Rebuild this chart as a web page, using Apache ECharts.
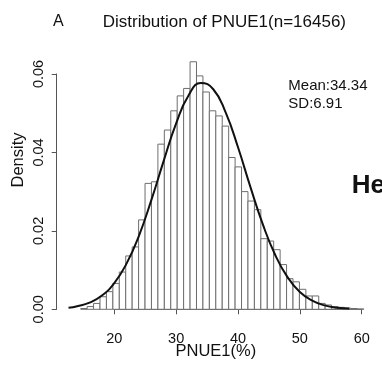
<!DOCTYPE html>
<html>
<head>
<meta charset="utf-8">
<script src="https://cdn.jsdelivr.net/npm/echarts@6/dist/echarts.min.js"></script>
<style>
	html, body { margin: 0; padding: 0; background: #fff; }
	#myhist { width: 382px; height: 365px; }
</style>
</head>
<body>
<div id="myhist"></div>
<script>
// histogram bins (PNUE1 %), left edge of first bin and bin width
var binStart = 14.57;
var binWidth = 1.04;
var densities = [
	0.0002, 0.0007, 0.0015, 0.0032, 0.0045, 0.0066, 0.0095, 0.0136, 0.0159, 0.0228,
	0.0321, 0.0325, 0.0421, 0.0457, 0.0506, 0.0544, 0.0563, 0.0631, 0.0595, 0.0554,
	0.0506, 0.0493, 0.0467, 0.0387, 0.0363, 0.0300, 0.0276, 0.0254, 0.0180, 0.0174,
	0.0152, 0.0114, 0.0078, 0.0070, 0.0051, 0.0034, 0.0034, 0.0015, 0.0011, 0.0007,
	0.0005, 0.0003, 0.0002, 0.0001
];
// fitted normal curve
var curveX = [12.6, 14, 16, 18, 20, 22, 24, 26, 28, 30, 32, 34, 36, 38, 40, 42, 44, 46, 48, 50, 52, 54, 56, 58];
var curveY = [0.0004, 0.0008, 0.0017, 0.0035, 0.0067, 0.0117, 0.0188, 0.0279, 0.0379, 0.0474, 0.0545, 0.0577,
	0.0561, 0.0502, 0.0413, 0.0312, 0.0217, 0.0139, 0.0082, 0.0044, 0.0022, 0.0010, 0.0004, 0.0002];
var xTicks = [20, 30, 40, 50, 60];
var yTicks = [0, 0.02, 0.04, 0.06];

var titleText = 'Distribution of PNUE1(n=16456)';
var statsText = ['Mean:34.34', 'SD:6.91'];

window.onload = function() {
	loadHist();
};

function renderBin(params, api) {
	var x0 = api.value(0);
	var x1 = api.value(1);
	var d = api.value(2);
	var p0 = api.coord([x0, d]);
	var p1 = api.coord([x1, 0]);
	return {
		type: 'rect',
		shape: { x: p0[0], y: p0[1], width: p1[0] - p0[0], height: p1[1] - p0[1] },
		style: { fill: '#fff', stroke: '#6e6e6e', lineWidth: 1 }
	};
}

function loadHist() {
	var mychart = echarts.init(document.getElementById('myhist'));
	var font = "'Liberation Sans', Arial, sans-serif";

	var bins = [];
	for (var i = 0; i < densities.length; i++) {
		var a = binStart + i * binWidth;
		bins.push([a, a + binWidth, densities[i]]);
	}
	var curve = [];
	for (var j = 0; j < curveX.length; j++) {
		curve.push([curveX[j], curveY[j]]);
	}

	var myoption = {
		backgroundColor: '#fff',
		animation: false,
		grid: [
			// plot region
			{ left: 64.8, width: 309.3, top: 50.4, height: 258.9 },
			// detached R style axes
			{ left: 114.3, width: 247.4, top: 74, height: 235.3 }
		],
		xAxis: [{
			gridIndex: 0, type: 'value', min: 12, max: 62, show: false
		}, {
			gridIndex: 1, type: 'value', min: xTicks[0], max: xTicks[xTicks.length - 1], interval: 10,
			offset: 10.5,
			axisLine: { lineStyle: { color: '#555', width: 1 } },
			axisTick: { length: 5, lineStyle: { color: '#555' } },
			axisLabel: { margin: 12, fontSize: 14.5, color: '#111', fontFamily: font },
			splitLine: { show: false }
		}],
		yAxis: [{
			gridIndex: 0, type: 'value', min: 0, max: 0.066, show: false
		}, {
			gridIndex: 1, type: 'value', min: yTicks[0], max: yTicks[yTicks.length - 1], interval: 0.02,
			offset: 57.6,
			axisLine: { show: true, lineStyle: { color: '#555', width: 1 } },
			axisTick: { show: true, length: 5, lineStyle: { color: '#555' } },
			axisLabel: {
				margin: 10, rotate: 90, fontSize: 14.5, color: '#111', fontFamily: font,
				formatter: function(v) { return v.toFixed(2); }
			},
			splitLine: { show: false }
		}],
		series: [{
			type: 'custom',
			xAxisIndex: 0,
			yAxisIndex: 0,
			renderItem: renderBin,
			encode: { x: [0, 1], y: 2 },
			data: bins
		}, {
			type: 'line',
			xAxisIndex: 0,
			yAxisIndex: 0,
			smooth: true,
			symbol: 'none',
			lineStyle: { color: '#111', width: 2 },
			data: curve
		}],
		graphic: [
			{ type: 'text', x: 53, y: 22, style: { text: 'A', font: '16px ' + font, fill: '#111', verticalAlign: 'middle' } },
			{ type: 'text', x: 102.7, y: 22, style: { text: titleText, font: '17px ' + font, fill: '#111', verticalAlign: 'middle' } },
			{ type: 'text', x: 18.5, y: 160, rotation: Math.PI / 2,
				style: { text: 'Density', font: '16.5px ' + font, fill: '#111', align: 'center', verticalAlign: 'middle' } },
			{ type: 'text', x: 215.8, y: 351, style: { text: 'PNUE1(%)', font: '16.5px ' + font, fill: '#111', align: 'center', verticalAlign: 'middle' } },
			{ type: 'text', x: 288.3, y: 86, style: { text: statsText[0], font: '15px ' + font, fill: '#111', verticalAlign: 'middle' } },
			{ type: 'text', x: 288.3, y: 104, style: { text: statsText[1], font: '15px ' + font, fill: '#111', verticalAlign: 'middle' } },
			{ type: 'text', x: 351.7, y: 186, style: { text: 'He', font: 'bold 26px ' + font, fill: '#111', verticalAlign: 'middle' } }
		]
	};
	mychart.setOption(myoption);
}
</script>
</body>
</html>
